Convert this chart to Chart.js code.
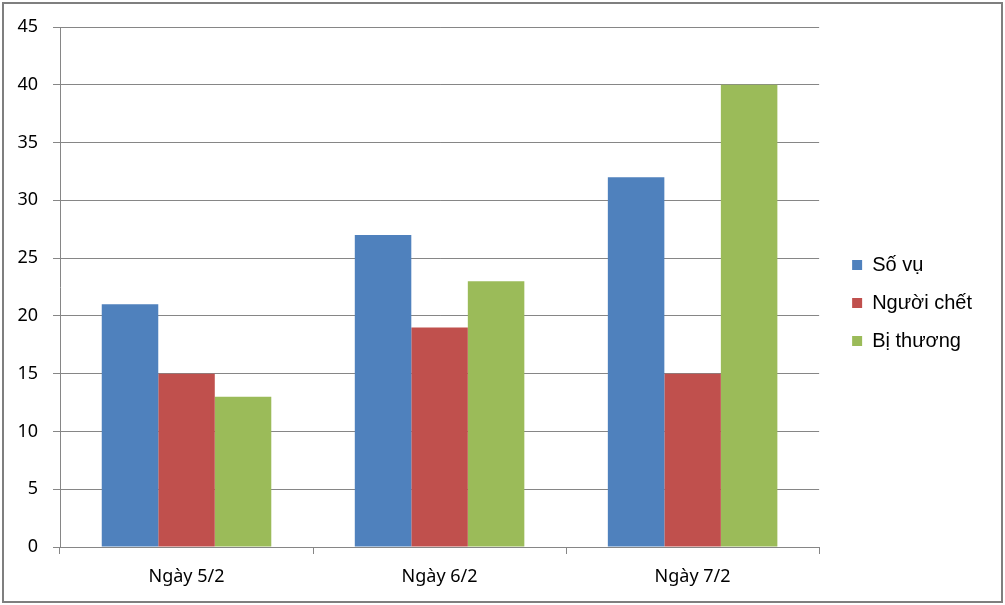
<!DOCTYPE html>
<html>
<head>
<meta charset="utf-8">
<script src="https://cdn.jsdelivr.net/npm/chart.js@4/dist/chart.umd.min.js"></script>
<style>
  html, body { margin: 0; padding: 0; background: #fff; }
  #wrap { width: 1005px; height: 605px; }
</style>
</head>
<body>
<div id="wrap"><canvas id="chart" width="1005" height="605"></canvas></div>
<script>
const categories = ['Ngày 5/2', 'Ngày 6/2', 'Ngày 7/2']
const soVu = [21, 27, 32]
const nguoiChet = [15, 19, 15]
const biThuong = [13, 23, 40]
const yTicks = [0, 5, 10, 15, 20, 25, 30, 35, 40, 45]

const gridGray = '#868686'

// grey frame around the whole picture
const frame = {
    id: 'frame',
    beforeDraw: (chart) => {
        const ctx = chart.ctx
        ctx.save()
        ctx.fillStyle = '#fff'
        ctx.fillRect(0, 0, chart.width, chart.height)
        ctx.strokeStyle = '#7f7f7f'
        ctx.lineWidth = 2
        ctx.strokeRect(3, 3, chart.width - 6, chart.height - 6)
        ctx.restore()
    },
    afterLayout: (chart) => {
        // nudge legend items right of the plot and a bit up
        const lg = chart.legend
        if (!lg) return
        lg.left += 15
        lg.right += 40
        lg.width += 25
        lg.top -= 13
        lg.bottom -= 13
    },
}

new Chart(document.getElementById('chart'), {
    type: 'bar',
    data: {
        labels: categories,
        datasets: [
            { label: 'Số vụ', data: soVu, backgroundColor: '#4f81bd' },
            { label: 'Người chết', data: nguoiChet, backgroundColor: '#c0504d' },
            { label: 'Bị thương', data: biThuong, backgroundColor: '#9bbb59' },
        ],
    },
    options: {
        responsive: false,
        animation: false,
        devicePixelRatio: 1,
        layout: { padding: { top: 27, left: 0, right: 38, bottom: 0 } },
        datasets: { bar: { categoryPercentage: 0.67, barPercentage: 1.0 } },
        plugins: {
            tooltip: { enabled: false },
            legend: {
                position: 'right',
                labels: {
                    boxWidth: 10,
                    boxHeight: 10,
                    padding: 18,
                    color: '#000',
                    font: { family: '"Liberation Sans", Arial, sans-serif', size: 20 },
                },
            },
        },
        scales: {
            x: {
                afterFit: (s) => { s.height = 58 },
                grid: { drawOnChartArea: false, offset: true, color: gridGray, tickLength: 7 },
                border: { color: gridGray },
                ticks: { color: '#000', padding: 12, font: { family: '"Noto Sans", sans-serif', size: 18 } },
            },
            y: {
                min: 0,
                max: 45,
                afterFit: (s) => { s.width = 60 },
                afterBuildTicks: (s) => { s.ticks = yTicks.map((v) => ({ value: v })) },
                grid: { color: gridGray, tickLength: 7 },
                border: { color: gridGray },
                ticks: { color: '#000', padding: 15, font: { family: '"Noto Sans", sans-serif', size: 18 } },
            },
        },
    },
    plugins: [frame],
})
</script>
</body>
</html>
